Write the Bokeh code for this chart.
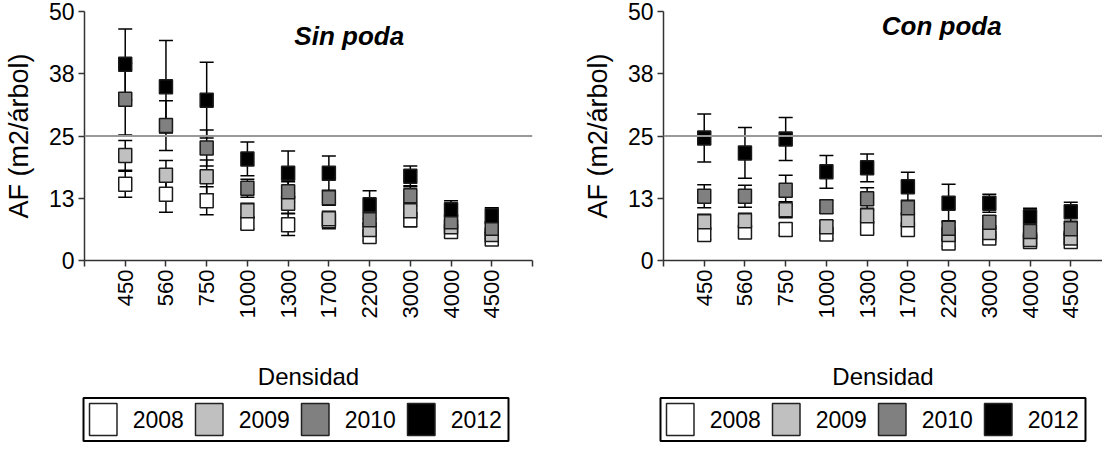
import math
from bokeh.plotting import figure
from bokeh.models import (ColumnDataSource, Whisker, TeeHead, Span, Label,
                          FixedTicker, Range1d)
from bokeh.core.properties import value
from bokeh.layouts import row, column
from bokeh.embed import file_html
from bokeh.resources import INLINE

# ---------------- data ----------------
densidad = ["450", "560", "750", "1000", "1300", "1700", "2200", "3000", "4000", "4500"]
years = ["2008", "2009", "2010", "2012"]
y_ticks = [0, 12.5, 25, 37.5, 50]
y_tick_labels = ["0", "13", "25", "38", "50"]
ref_line = 25

# Sin poda
sin_2008 = [15.3, 13.3, 12.0, 7.5, 7.2, 8.0, 4.8, 8.2, 5.8, 4.3]
sin_2008_se = [2.6, 3.6, 2.8, 1.1, 2.2, 1.6, 0.8, 1.4, 0.8, 0.6]
sin_2009 = [21.1, 17.1, 16.8, 10.0, 11.5, 8.4, 6.2, 10.0, 6.8, 5.2]
sin_2009_se = [3.0, 3.0, 3.4, 1.5, 2.0, 1.5, 1.2, 1.5, 1.0, 0.8]
sin_2010 = [32.4, 27.1, 22.6, 14.5, 13.8, 12.6, 8.2, 13.0, 7.8, 6.5]
sin_2010_se = [7.2, 5.0, 3.6, 1.8, 2.0, 1.5, 1.5, 2.0, 1.2, 1.0]
sin_2012 = [39.4, 34.9, 32.2, 20.4, 17.5, 17.5, 11.2, 16.9, 10.2, 9.0]
sin_2012_se = [7.1, 9.3, 7.6, 3.4, 4.5, 3.5, 2.8, 2.1, 1.8, 1.6]

# Con poda
con_2008 = [5.2, 5.7, 6.2, 5.3, 6.5, 6.2, 3.5, 4.5, 3.8, 3.8]
con_2008_se = [1.0, 1.0, 1.2, 1.0, 1.0, 0.8, 0.6, 0.6, 0.5, 0.5]
con_2009 = [7.8, 8.0, 10.2, 6.8, 9.0, 8.2, 5.2, 5.6, 4.2, 4.5]
con_2009_se = [1.5, 1.5, 1.6, 1.2, 1.5, 1.3, 1.0, 1.0, 0.8, 0.8]
con_2010 = [12.9, 12.9, 14.1, 10.8, 12.4, 10.6, 6.5, 7.7, 5.8, 6.4]
con_2010_se = [2.3, 2.2, 3.0, 1.3, 2.2, 1.5, 1.5, 1.3, 1.2, 1.0]
con_2012 = [24.6, 21.6, 24.4, 17.8, 18.6, 14.8, 11.5, 11.5, 8.8, 9.8]
con_2012_se = [4.8, 5.1, 4.3, 3.3, 2.8, 2.9, 3.8, 1.8, 1.7, 1.9]

# ---------------- styles ----------------
FONT = "Liberation Sans"
FILLS = ["#FFFFFF", "#C0C0C0", "#808080", "#000000"]
AXIS_COLOR = "#333333"
FRAME_H = 249
BOTTOM = 136
LEG_H = 46


def make_panel(title, series, errors, b_left, b_right, frame_w, title_x, title_y):
    n = len(densidad)
    x_end = (n + 1) * frame_w / 448.0
    p = figure(frame_width=frame_w, frame_height=FRAME_H, output_backend="svg",
               toolbar_location=None,
               x_range=Range1d(0, x_end), y_range=Range1d(0, 50),
               min_border_left=b_left, min_border_right=b_right,
               min_border_top=11, min_border_bottom=BOTTOM)
    p.outline_line_color = None
    p.xgrid.grid_line_color = None
    p.ygrid.grid_line_color = None
    p.background_fill_color = "white"
    p.border_fill_color = "white"

    xs = list(range(1, n + 1))

    p.add_layout(Span(location=ref_line, dimension="width", line_color="#999999",
                      line_width=2))

    # error bars first
    for vals, errs in zip(series, errors):
        src = ColumnDataSource(dict(x=xs,
                                    upper=[v + e for v, e in zip(vals, errs)],
                                    lower=[v - e for v, e in zip(vals, errs)]))
        w = Whisker(source=src, base="x", upper="upper", lower="lower",
                    line_color="black", line_width=1.5,
                    upper_head=TeeHead(size=14, line_color="black", line_width=1.5),
                    lower_head=TeeHead(size=14, line_color="black", line_width=1.5))
        p.add_layout(w)

    for vals, col in zip(series, FILLS):
        src = ColumnDataSource(dict(x=xs, y=vals))
        p.rect(x="x", y="y", width=13, height=14, width_units="screen",
               height_units="screen", fill_color=col, line_color="#1a1a1a",
               line_width=1.5, source=src)

    # axes
    tick_pos = list(range(0, n + 2))
    overrides = {i: "" for i in tick_pos}
    for i, d in enumerate(densidad):
        overrides[i + 1] = d
    xa = p.xaxis[0]
    xa.ticker = FixedTicker(ticks=tick_pos)
    xa.major_label_overrides = overrides
    xa.major_label_orientation = math.pi / 2
    xa.minor_tick_line_color = None
    xa.major_tick_in = 0
    xa.major_tick_out = 6
    xa.major_label_standoff = 3
    xa.axis_label = "Densidad"
    xa.axis_label_standoff = 42

    ya = p.yaxis[0]
    ya.ticker = FixedTicker(ticks=y_ticks)
    ya.major_label_overrides = {t: l for t, l in zip(y_ticks, y_tick_labels)}
    ya.minor_tick_line_color = None
    ya.major_tick_in = 0
    ya.major_tick_out = 6
    ya.major_label_standoff = 4
    ya.axis_label = "AF (m2/árbol)"
    ya.axis_label_standoff = 12

    for ax in (xa, ya):
        ax.axis_line_color = AXIS_COLOR
        ax.axis_line_width = 1.5
        ax.major_tick_line_color = AXIS_COLOR
        ax.major_tick_line_width = 1.5
        ax.major_label_text_font = FONT
        ax.major_label_text_color = "black"
        ax.axis_label_text_font = FONT
        ax.axis_label_text_font_style = "normal"
        ax.axis_label_text_color = "black"
    xa.major_label_text_font_size = "22px"
    ya.major_label_text_font_size = "23px"
    xa.axis_label_text_font_size = "24px"
    ya.axis_label_text_font_size = "27px"

    p.add_layout(Label(x=title_x, y=title_y, text=title, text_font=FONT,
                       text_font_style="bold italic", text_font_size="26px",
                       text_align="center", text_baseline="alphabetic",
                       text_color="black"))
    return p


def make_legend(width, dx):
    # a strip whose data units are screen pixels, holding a boxed key of the years
    lf = figure(width=width, height=LEG_H, output_backend="svg", toolbar_location=None,
                x_range=Range1d(0, width), y_range=Range1d(0, LEG_H),
                x_axis_type=None, y_axis_type=None, min_border=0)
    lf.outline_line_color = None
    lf.xgrid.grid_line_color = None
    lf.ygrid.grid_line_color = None
    lf.background_fill_color = "white"
    lf.border_fill_color = "white"

    pad, gw, gh, gap, pitch = 6, 27.5, 32, 15.7, 106
    box_w, box_b, box_t = 425, 1.5, 44.5
    mid = (box_b + box_t) / 2
    lefts = [dx + pad + i * pitch for i in range(len(years))]
    lf.quad(left=[dx], right=[dx + box_w], bottom=[box_b], top=[box_t],
            fill_color="white", line_color="black", line_width=2)
    lf.quad(left=lefts, right=[l + gw for l in lefts],
            bottom=[mid - gh / 2] * len(years), top=[mid + gh / 2] * len(years),
            fill_color=FILLS, line_color="#222222", line_width=1.5)
    lf.text(x=[l + gw + gap for l in lefts], y=[mid] * len(years), text=years,
            text_font=value(FONT), text_font_size=value("23px"),
            text_align="left", text_baseline="middle", text_color="black")
    return lf


p1 = make_panel("Sin poda",
                [sin_2008, sin_2009, sin_2010, sin_2012],
                [sin_2008_se, sin_2009_se, sin_2010_se, sin_2012_se],
                b_left=80, b_right=47, frame_w=448, title_x=6.5, title_y=45)
p2 = make_panel("Con poda",
                [con_2008, con_2009, con_2010, con_2012],
                [con_2008_se, con_2009_se, con_2010_se, con_2012_se],
                b_left=83, b_right=0, frame_w=439, title_x=6.83, title_y=47)
l1 = make_legend(575, 83)
l2 = make_legend(522, 85)

layout = column(row(p1, p2), row(l1, l2))
open("out.html", "w").write(file_html(layout, INLINE))
